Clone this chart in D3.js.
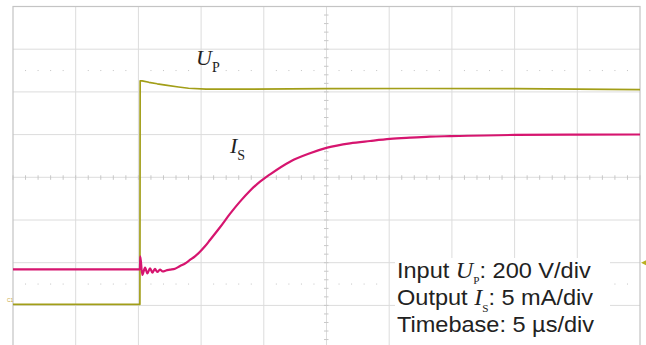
<!DOCTYPE html>
<html>
<head>
<meta charset="utf-8">
<title>Input / output step response</title>
<script src="https://d3js.org/d3.v7.min.js"></script>
<style>
  body { margin: 0; background: #fff; }
  svg { display: block; }
  .grid line { stroke: #dcdcdc; stroke-width: 1; }
  .frame { fill: none; stroke: #c4c4c4; stroke-width: 1.2; }
  .trace { fill: none; stroke-linejoin: round; }
  .note { font-family: "Liberation Sans", Arial, sans-serif; font-size: 22px; fill: #222; }
  .sym { font-family: "Liberation Serif", "Times New Roman", serif; fill: #222; }
</style>
</head>
<body>
<svg width="646" height="345"></svg>
<script>
// scope grid: 10 x 8 divisions, 5 us/div
var gridTimes = [-10, -5, 0, 5, 10, 15, 20, 25, 30, 35, 40];
var gridDivs = [-4, -3, -2, -1, 0, 1, 2, 3, 4];

// U_P (channel 1), volts, 200 V/div
var upTime = [-10, 0.12, 0.14, 0.3, 0.84, 1.5, 2.17, 3.2, 4.0, 5.4, 8.8, 15, 22, 30, 35, 40];
var upVolt = [0, 0, 1047, 1047, 1040, 1033, 1027, 1018, 1012, 1008, 1008, 1010, 1011, 1010, 1008, 1006];

// I_S (channel 2), mA, 5 mA/div
var isTime = [-10, 0.12, 0.15, 0.31, 0.53, 0.71, 0.93, 1.11, 1.32, 1.51, 1.72, 1.94, 2.2, 2.52, 2.92,
  3.32, 3.72, 4.11, 4.51, 4.91, 5.31, 5.71, 6.51, 7.3, 8.1, 8.9, 9.7, 10.5, 12.09, 13.68,
  15.06, 16.87, 18.47, 20.06, 21.66, 23.25, 24.85, 30.03, 35.06, 40];
var isCurrent = [0, 0, 1.5, -0.67, 0.19, -0.47, 0.12, -0.4, 0.04, -0.32, -0.04, -0.26, -0.14, -0.05, 0.06,
  0.39, 0.68, 1.09, 1.52, 2.06, 2.69, 3.43, 4.92, 6.48, 7.92, 9.2, 10.26, 11.12, 12.6, 13.58,
  14.24, 14.75, 15.02, 15.26, 15.41, 15.53, 15.59, 15.73, 15.76, 15.78];

var noteLines = [
  {pre: "Input ", sym: "U", sub: "P", post: ": 200 V/div"},
  {pre: "Output ", sym: "I", sub: "S", post: ": 5 mA/div"},
  {pre: "Timebase: 5 µs/div", sym: "", sub: "", post: ""}
];

var svg = d3.select("svg");

var x = d3.scaleLinear().domain([-10, 40]).range([13, 640]),
    yDiv = d3.scaleLinear().domain([-4, 4]).range([348.1, 6.5]),
    yU = d3.scaleLinear().domain([-205, 1395]).range([348.1, 6.5]),
    yI = d3.scaleLinear().domain([-9.23, 30.77]).range([348.1, 6.5]);

var minorT = d3.range(-10, 40.01, 1),
    minorD = d3.range(-4, 4.01, 0.2);

// grid
var grid = svg.append("g").attr("class", "grid");

grid.selectAll(".v")
  .data(gridTimes.slice(1, -1))
  .enter().append("line")
    .attr("x1", function(d) { return x(d); })
    .attr("x2", function(d) { return x(d); })
    .attr("y1", yDiv(4))
    .attr("y2", yDiv(-4));

grid.selectAll(".h")
  .data(gridDivs.slice(1, -1))
  .enter().append("line")
    .attr("x1", x(-10))
    .attr("x2", x(40))
    .attr("y1", function(d) { return yDiv(d); })
    .attr("y2", function(d) { return yDiv(d); });

// centre cross ticks
grid.selectAll(".tx")
  .data(minorT)
  .enter().append("line")
    .style("stroke", "#c8c8c8")
    .attr("x1", function(d) { return x(d); })
    .attr("x2", function(d) { return x(d); })
    .attr("y1", yDiv(0) - 2)
    .attr("y2", yDiv(0) + 2.5);

grid.selectAll(".ty")
  .data(minorD)
  .enter().append("line")
    .style("stroke", "#c8c8c8")
    .attr("x1", x(15) - 2.5)
    .attr("x2", x(15) + 2)
    .attr("y1", function(d) { return yDiv(d); })
    .attr("y2", function(d) { return yDiv(d); });

// dotted rows at +/- 2.5 div
[-2.5, 2.5].forEach(function(lev) {
  grid.selectAll(".dot" + (lev > 0 ? "p" : "n"))
    .data(minorT.filter(function(d) { return d % 5 !== 0; }))
    .enter().append("rect")
      .attr("x", function(d) { return x(d) - 0.5; })
      .attr("y", yDiv(lev) - 0.5)
      .attr("width", 1)
      .attr("height", 1)
      .style("fill", "#c4c4c4");
});

svg.append("rect")
  .attr("class", "frame")
  .attr("x", x(-10))
  .attr("y", yDiv(4))
  .attr("width", x(40) - x(-10))
  .attr("height", yDiv(-4) - yDiv(4));

// traces
var upLine = d3.line()
  .x(function(d, i) { return x(upTime[i]); })
  .y(function(d) { return yU(d); });

var isLine = d3.line()
  .curve(d3.curveMonotoneX)
  .x(function(d, i) { return x(isTime[i]); })
  .y(function(d) { return yI(d); });

svg.append("path")
  .attr("class", "trace")
  .attr("d", upLine(upVolt))
  .style("stroke", "#a29e18")
  .style("stroke-width", 1.7);

svg.append("path")
  .attr("class", "trace")
  .attr("d", isLine(isCurrent))
  .style("stroke", "#d6156f")
  .style("stroke-width", 2.2);

// channel markers
svg.append("text")
  .attr("x", 7)
  .attr("y", yU(0) - 2.5)
  .style("font", "5px sans-serif")
  .style("fill", "#c8a840")
  .text("C1");

svg.append("path")
  .attr("d", "M641," + yI(0.75) + "l5,-2.5v5z")
  .style("fill", "#b8b020");

// trace labels
function label(tx, ty, sym, sub) {
  var t = svg.append("text").attr("class", "sym").attr("x", tx).attr("y", ty);
  t.append("tspan").style("font-style", "italic").style("font-size", "22px").text(sym);
  t.append("tspan").style("font-size", "14px").attr("dy", 7).text(sub);
}
label(196, 65, "U", "P");
label(230, 153, "I", "S");

// scale note
svg.append("rect")
  .attr("x", 395)
  .attr("y", 258)
  .attr("width", 215)
  .attr("height", 90)
  .style("fill", "#fff");

var note = svg.append("g")
  .attr("transform", "translate(397,0) scale(1.07,1)");

noteLines.forEach(function(l, i) {
  var t = note.append("text")
    .attr("class", "note")
    .attr("x", 0)
    .attr("y", 277.7 + i * 27.4);
  t.append("tspan").text(l.pre);
  if (l.sym) {
    t.append("tspan").attr("class", "sym").style("font-style", "italic").style("font-size", "22.5px").text(l.sym);
    t.append("tspan").attr("class", "sym").style("font-size", "10.5px").attr("dy", 6.5).text(l.sub);
    t.append("tspan").attr("dy", -6.5).text(l.post);
  }
});
</script>
</body>
</html>
